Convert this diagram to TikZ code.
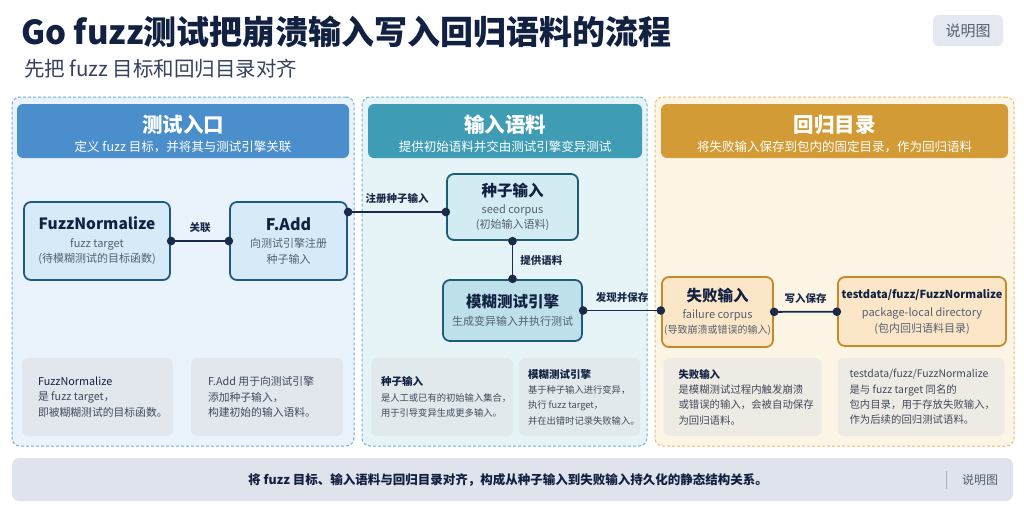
\documentclass[tikz,border=0pt]{standalone}
\usepackage{fontspec}
\setmainfont{Noto Sans CJK SC}
\usepackage{tikz}
\usetikzlibrary{positioning,arrows.meta}
\definecolor{TitleNavy}{RGB}{18,33,66}
\definecolor{LineNavy}{RGB}{27,42,72}
\definecolor{SubGray}{RGB}{84,96,112}
\definecolor{BodyGray}{RGB}{64,74,92}
\definecolor{EntryFill}{RGB}{234,243,252}
\definecolor{EntryEdge}{RGB}{116,170,214}
\definecolor{EntryHead}{RGB}{74,142,203}
\definecolor{EntryNode}{RGB}{214,234,248}
\definecolor{EntryBorder}{RGB}{30,90,136}
\definecolor{EntryCard}{RGB}{226,231,237}
\definecolor{CorpusFill}{RGB}{230,244,247}
\definecolor{CorpusEdge}{RGB}{110,184,200}
\definecolor{CorpusHead}{RGB}{62,156,180}
\definecolor{CorpusNode}{RGB}{211,236,243}
\definecolor{CorpusBorder}{RGB}{28,92,118}
\definecolor{CorpusCard}{RGB}{225,233,236}
\definecolor{RegFill}{RGB}{252,245,230}
\definecolor{RegEdge}{RGB}{230,190,110}
\definecolor{RegHead}{RGB}{210,155,54}
\definecolor{RegNode}{RGB}{251,231,199}
\definecolor{RegBorder}{RGB}{196,138,42}
\definecolor{RegCard}{RGB}{238,235,229}
\definecolor{FootFill}{RGB}{223,228,236}
\definecolor{BadgeFill}{RGB}{228,232,240}
\newcommand{\ntitle}{\bfseries\color{TitleNavy}\fontsize{15.5}{18}\selectfont}
\newcommand{\nsub}{\color{SubGray}\fontsize{11}{14}\selectfont}

\begin{document}
\begin{tikzpicture}[
x=1pt, y=-1pt,
font=\fontsize{11}{15.5}\selectfont,
panel/.style={draw, rounded corners=8pt, line width=1pt, dash pattern=on 3pt off 2pt},
head/.style={rounded corners=6pt, inner sep=0pt, minimum height=54pt},
headtitle/.style={text=white, font=\bfseries\fontsize{20.5}{24}\selectfont},
headsub/.style={text=white, font=\fontsize{12.5}{15}\selectfont},
flow/.style={draw, rounded corners=7pt, line width=1.8pt, align=center, inner sep=2pt},
conn/.style={draw=LineNavy, line width=1.8pt, {Circle[length=8.5pt]}-{Circle[length=8.5pt]}, shorten <=-4pt, shorten >=-4pt},
lbl/.style={font=\bfseries\fontsize{10.5}{12}\selectfont, text=LineNavy, inner sep=1pt},
card/.style={rounded corners=6pt, inner sep=0pt, minimum height=78pt},
cardtxt/.style={align=left, anchor=west, text=BodyGray, inner sep=0pt, font=\fontsize{10.8}{15.5}\selectfont}
]
\useasboundingbox[fill=white] (0,0) rectangle (1024,512);

\node[anchor=west, text=TitleNavy, font=\bfseries\fontsize{33}{36}\selectfont, inner sep=0pt] (title) at (21,32) {Go fuzz测试把崩溃输入写入回归语料的流程};
\node[anchor=west, text=TitleNavy!85, font=\fontsize{20.5}{22}\selectfont, inner sep=0pt] (subtitle) at (24,69) {先把 fuzz 目标和回归目录对齐};
\node[fill=BadgeFill, rounded corners=5pt, minimum width=70pt, minimum height=31pt, text=SubGray, font=\fontsize{15}{17}\selectfont] (badge) at (968,30.5) {说明图};

\node[panel, fill=EntryFill, draw=EntryEdge, minimum width=342pt, minimum height=349pt] (pn1) at (183,271.5) {};
\node[panel, fill=CorpusFill, draw=CorpusEdge, minimum width=285pt, minimum height=349pt] (pn2) at (504.5,271.5) {};
\node[panel, fill=RegFill, draw=RegEdge, minimum width=359pt, minimum height=349pt] (pn3) at (834.5,271.5) {};

\node[head, fill=EntryHead, minimum width=332pt] (hd1) at (183,131) {};
\node[head, fill=CorpusHead, minimum width=274pt] (hd2) at (505,131) {};
\node[head, fill=RegHead, minimum width=347pt] (hd3) at (834.5,131) {};
\node[headtitle] at ([yshift=6pt]hd1.center) {测试入口};
\node[headsub] at ([yshift=-16pt]hd1.center) {定义 fuzz 目标，并将其与测试引擎关联};
\node[headtitle] at ([yshift=6pt]hd2.center) {输入语料};
\node[headsub] at ([yshift=-16pt]hd2.center) {提供初始语料并交由测试引擎变异测试};
\node[headtitle] at ([yshift=6pt]hd3.center) {回归目录};
\node[headsub] at ([yshift=-16pt]hd3.center) {将失败输入保存到包内的固定目录，作为回归语料};

\node[flow, fill=EntryNode, draw=EntryBorder, minimum width=146pt, minimum height=78pt] (fuzzfn) at (97,241)
  {{\ntitle\fontsize{15.5}{19}\selectfont FuzzNormalize}\\[2pt]{\nsub fuzz target}\\{\nsub (待模糊测试的目标函数)}};
\node[flow, fill=EntryNode, draw=EntryBorder, minimum width=117pt, minimum height=78pt] (fadd) at (288.5,241)
  {{\ntitle\fontsize{16}{19}\selectfont F.Add}\\[2pt]{\nsub 向测试引擎注册}\\{\nsub 种子输入}};
\node[flow, fill=CorpusNode, draw=CorpusBorder, minimum width=131pt, minimum height=66pt] (seed) at (512.5,207)
  {{\ntitle 种子输入}\\[1pt]{\nsub seed corpus}\\{\nsub (初始输入语料)}};
\node[flow, fill=CorpusNode!85!CorpusHead, draw=CorpusBorder, minimum width=139pt, minimum height=61pt] (engine) at (512.5,310.5)
  {{\ntitle 模糊测试引擎}\\[3pt]{\nsub 生成变异输入并执行测试}};
\node[flow, fill=RegNode, draw=RegBorder, minimum width=111pt, minimum height=70pt] (fail) at (717.5,312)
  {{\ntitle 失败输入}\\[1pt]{\nsub failure corpus}\\{\nsub\fontsize{10}{13}\selectfont (导致崩溃或错误的输入)}};
\node[flow, fill=RegNode, draw=RegBorder, minimum width=168pt, minimum height=69pt] (regdir) at (922,311.5)
  {{\ntitle\fontsize{11}{14}\selectfont testdata/fuzz/FuzzNormalize}\\[3pt]{\nsub package-local directory}\\{\nsub (包内回归语料目录)}};

\coordinate (seedin) at ([yshift=-5pt]seed.west);
\draw[conn] (fuzzfn) -- node[lbl, above=6pt] {关联} (fadd);
\draw[conn] (fadd.east |- seedin) -- node[lbl, above=6pt] {注册种子输入} (seedin);
\draw[conn] (seed) -- node[lbl, right=6pt] {提供语料} (engine);
\draw[conn] (engine.east) -- node[lbl, above=6pt] {发现并保存} (engine.east -| fail.west);
\draw[conn] (fail) -- node[lbl, above=6pt] {写入保存} (regdir);

\node[card, fill=EntryCard, minimum width=151pt] (c1) at (97.5,397) {};
\node[card, fill=EntryCard, minimum width=152pt] (c2) at (267,397) {};
\node[card, fill=CorpusCard, minimum width=142pt] (c3) at (442,397) {};
\node[card, fill=CorpusCard, minimum width=121pt] (c4) at (579.5,397) {};
\node[card, fill=RegCard, minimum width=158pt] (c5) at (742.5,397) {};
\node[card, fill=RegCard, minimum width=167pt] (c6) at (921,397) {};

\node[cardtxt] at ([xshift=16pt]c1.west) {{\color{TitleNavy}FuzzNormalize}\\是 fuzz target，\\即被糊糊测试的目标函数。};
\node[cardtxt] at ([xshift=17pt]c2.west) {F.Add 用于向测试引擎\\添加种子输入，\\构建初始的输入语料。};
\node[cardtxt, font=\fontsize{9.3}{15.5}\selectfont] at ([xshift=10pt]c3.west) {{\bfseries\color{TitleNavy}\fontsize{10.5}{15.5}\selectfont 种子输入}\\是人工或已有的初始输入集合，\\用于引导变异生成更多输入。};
\node[cardtxt, font=\fontsize{9.3}{15.3}\selectfont] at ([xshift=9pt]c4.west) {{\bfseries\color{TitleNavy}\fontsize{10.5}{15.3}\selectfont 模糊测试引擎}\\基于种子输入进行变异，\\执行 fuzz target，\\并在出错时记录失败输入。};
\node[cardtxt, font=\fontsize{10.4}{15.3}\selectfont] at ([xshift=15pt]c5.west) {{\bfseries\color{TitleNavy}失败输入}\\是模糊测试过程内触发崩溃\\或错误的输入，会被自动保存\\为回归语料。};
\node[cardtxt, font=\fontsize{10.4}{15.3}\selectfont] at ([xshift=12pt]c6.west) {testdata/fuzz/FuzzNormalize\\是与 fuzz target 同名的\\包内目录，用于存放失败输入，\\作为后续的回归测试语料。};

\node[fill=FootFill, rounded corners=7pt, minimum width=1001pt, minimum height=43pt] (foot) at (512.5,479.5) {};
\node[text=TitleNavy, font=\bfseries\fontsize{12.5}{15}\selectfont] (foottxt) at (508,480) {将 fuzz 目标、输入语料与回归目录对齐，构成从种子输入到失败输入持久化的静态结构关系。};
\node[text=SubGray, font=\fontsize{12}{14}\selectfont] (footbadge) at (980,480) {说明图};
\draw[SubGray!50, line width=0.8pt] ([xshift=-12pt,yshift=-9pt]footbadge.west) -- ([xshift=-12pt,yshift=9pt]footbadge.west);
\end{tikzpicture}
\end{document}
